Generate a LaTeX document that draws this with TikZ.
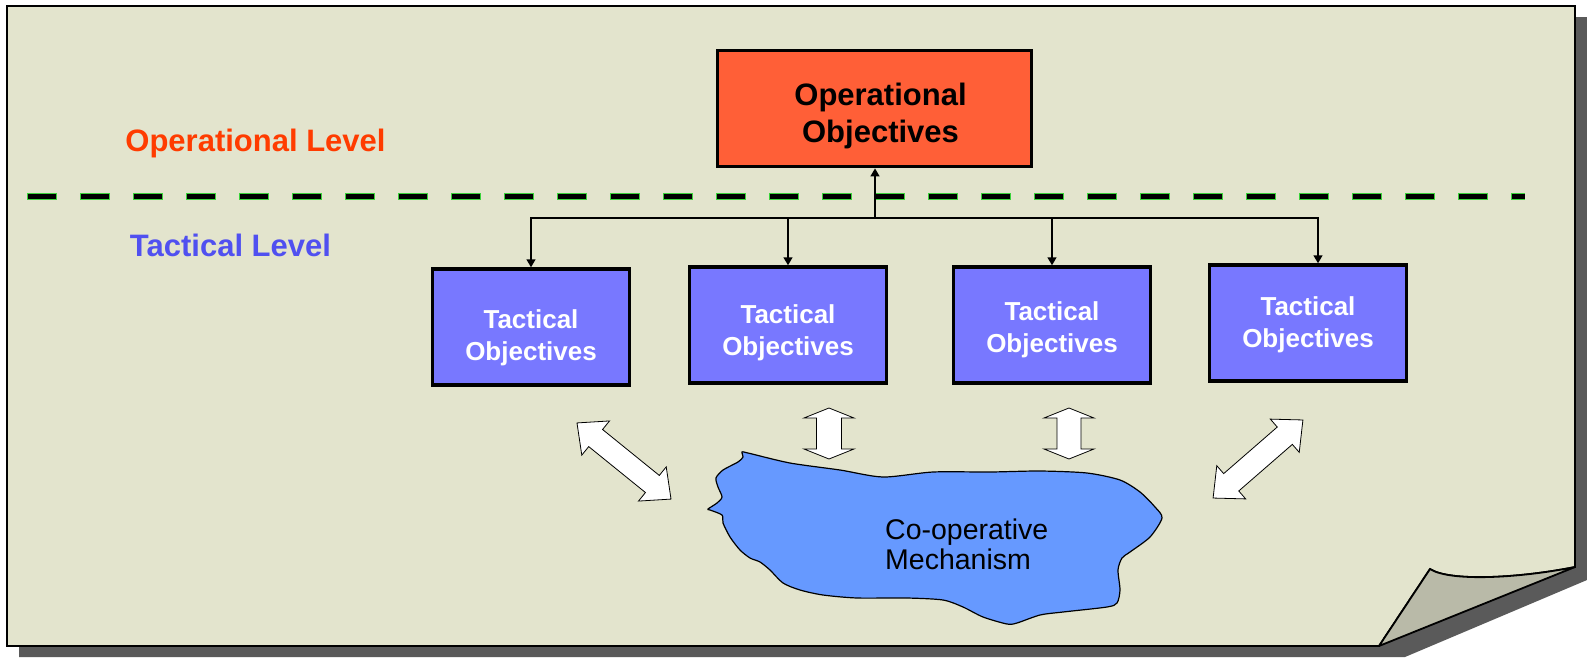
\documentclass[tikz,border=0pt]{standalone}
\usepackage{fontspec}
\setmainfont{Liberation Sans}
\usetikzlibrary{arrows.meta,shadows}

\definecolor{pagebg}{RGB}{227,228,205}
\definecolor{foldbg}{RGB}{185,186,168}
\definecolor{pageshadow}{RGB}{90,90,90}
\definecolor{opred}{RGB}{255,95,55}
\definecolor{tacblue}{RGB}{120,120,255}
\definecolor{blobblue}{RGB}{102,153,255}
\definecolor{levelred}{RGB}{255,60,0}
\definecolor{levelblue}{RGB}{80,80,240}
\definecolor{dashgreen}{RGB}{60,210,60}

% white two-headed block arrow: centre, angle, half length, head half width, head length, shaft half width
\newcommand{\twoway}[6]{%
  \begin{scope}[shift={#1}, rotate=#2]
    \draw[twowayarrow] (-#3,0) -- ({-#3+#5},#4) -- ({-#3+#5},#6) -- ({#3-#5},#6) -- ({#3-#5},#4)
      -- (#3,0) -- ({#3-#5},-#4) -- ({#3-#5},-#6) -- ({-#3+#5},-#6) -- ({-#3+#5},-#4) -- cycle;
  \end{scope}}

\begin{document}
\begin{tikzpicture}[x=1pt,y=-1pt,
  opbox/.style={draw, line width=3.8pt, fill=opred, minimum width=314pt, minimum height=116pt,
    drop shadow={shadow xshift=1.5pt, shadow yshift=-1.5pt, opacity=0.35}},
  optext/.style={align=center, font=\bfseries\fontsize{31}{37}\selectfont},
  tacbox/.style={draw, line width=3.5pt, fill=tacblue, minimum width=197pt, minimum height=116pt,
    drop shadow={shadow xshift=1.5pt, shadow yshift=-1.5pt, opacity=0.35}},
  tactext/.style={text=white, align=center, font=\bfseries\fontsize{26}{32}\selectfont},
  levellabel/.style={font=\bfseries\fontsize{31}{37}\selectfont, anchor=base},
  link/.style={line width=1.5pt, -{Triangle[length=8pt,width=9pt]}},
  twowayarrow/.style={fill=white, draw=black, line width=0.8pt, line join=miter}]

  \useasboundingbox (0,0) rectangle (1587,657);

  % Sheet with turned corner
  \fill[pageshadow] (19,17) -- (1587,17) -- (1587,580) -- (1405,657) -- (19,657) -- cycle;
  \draw[line width=1.8pt, fill=pagebg] (7,6) -- (1575,6) -- (1575,567)
    .. controls (1520,578) and (1450,582) .. (1430,569) -- (1379,646) -- (7,646) -- cycle;
  \draw[line width=1.8pt, fill=foldbg, line join=round] (1430,569)
    .. controls (1450,582) and (1520,578) .. (1575,567) -- (1379,646) -- cycle;

  % Levels
  \node[levellabel, text=levelred] (oplevel) at (255.5,151.5) {Operational Level};
  \node[levellabel, text=levelblue] (taclevel) at (230.5,256) {Tactical Level};
  \draw[dashgreen, line width=7pt, dash pattern=on 30pt off 23pt] (27.3,196) -- (1525,196);
  \draw[black, line width=5pt, dash pattern=on 28pt off 25pt] (28.3,196) -- (1525,196);

  % Objectives
  \node[opbox, label={[optext, xshift=6pt, yshift=-7pt]center:{Operational\\Objectives}}] (op) at (874.5,108.5) {};
  \node[tacbox, label={[tactext, yshift=-11pt]center:{Tactical\\Objectives}}] (t1) at (531,327) {};
  \node[tacbox, label={[tactext, yshift=-8pt]center:{Tactical\\Objectives}}] (t2) at (788,325) {};
  \node[tacbox, label={[tactext, yshift=-5pt]center:{Tactical\\Objectives}}] (t3) at (1052,325) {};
  \node[tacbox, label={[tactext, yshift=-2pt]center:{Tactical\\Objectives}}] (t4) at (1308,323) {};

  \coordinate (hub) at (875,218);
  \draw[link] (hub) -- (hub |- op.south);
  \draw[link] (hub) -| (t1.north);
  \draw[link] (hub) -| (t2.north);
  \draw[link] (hub) -| (t3.north);
  \draw[link] (hub) -| ([xshift=10pt]t4.north);

  % Co-operative mechanism
  \draw[line width=1.2pt, fill=blobblue] plot[smooth cycle, tension=0.45] coordinates {
    (742,452) (748,453) (790,463) (840,470) (883,477) (933,472) (990,472) (1040,471)
    (1087,473) (1120,480) (1140,492) (1155,507) (1162,518) (1150,537) (1130,552)
    (1122,558) (1118,570) (1120,590) (1117,603) (1107,607) (1063,612) (1040,615)
    (1017,623) (1007,624) (983,617) (963,607) (943,600) (907,598) (857,598) (823,595)
    (800,590) (783,583) (770,570) (760,562) (750,558) (740,550) (730,537) (723,523)
    (722,515) (710,510) (708,509) (717,503) (722,497) (718,487) (716,478) (723,470)
    (738,462) (743,457)};
  \node[font=\fontsize{28.5}{30}\selectfont, align=left, anchor=west, inner sep=0pt] (mech)
    at (885,544) {Co-operative\\Mechanism};

  \twoway{(624,461)}{-39}{60.5}{22}{24}{11}
  \twoway{(829,433.5)}{90}{25.5}{25}{10}{12.5}
  \twoway{(1069,433.5)}{90}{25.5}{25}{10}{12}
  \twoway{(1258,459)}{41}{59.5}{22}{24}{11.5}
\end{tikzpicture}
\end{document}
